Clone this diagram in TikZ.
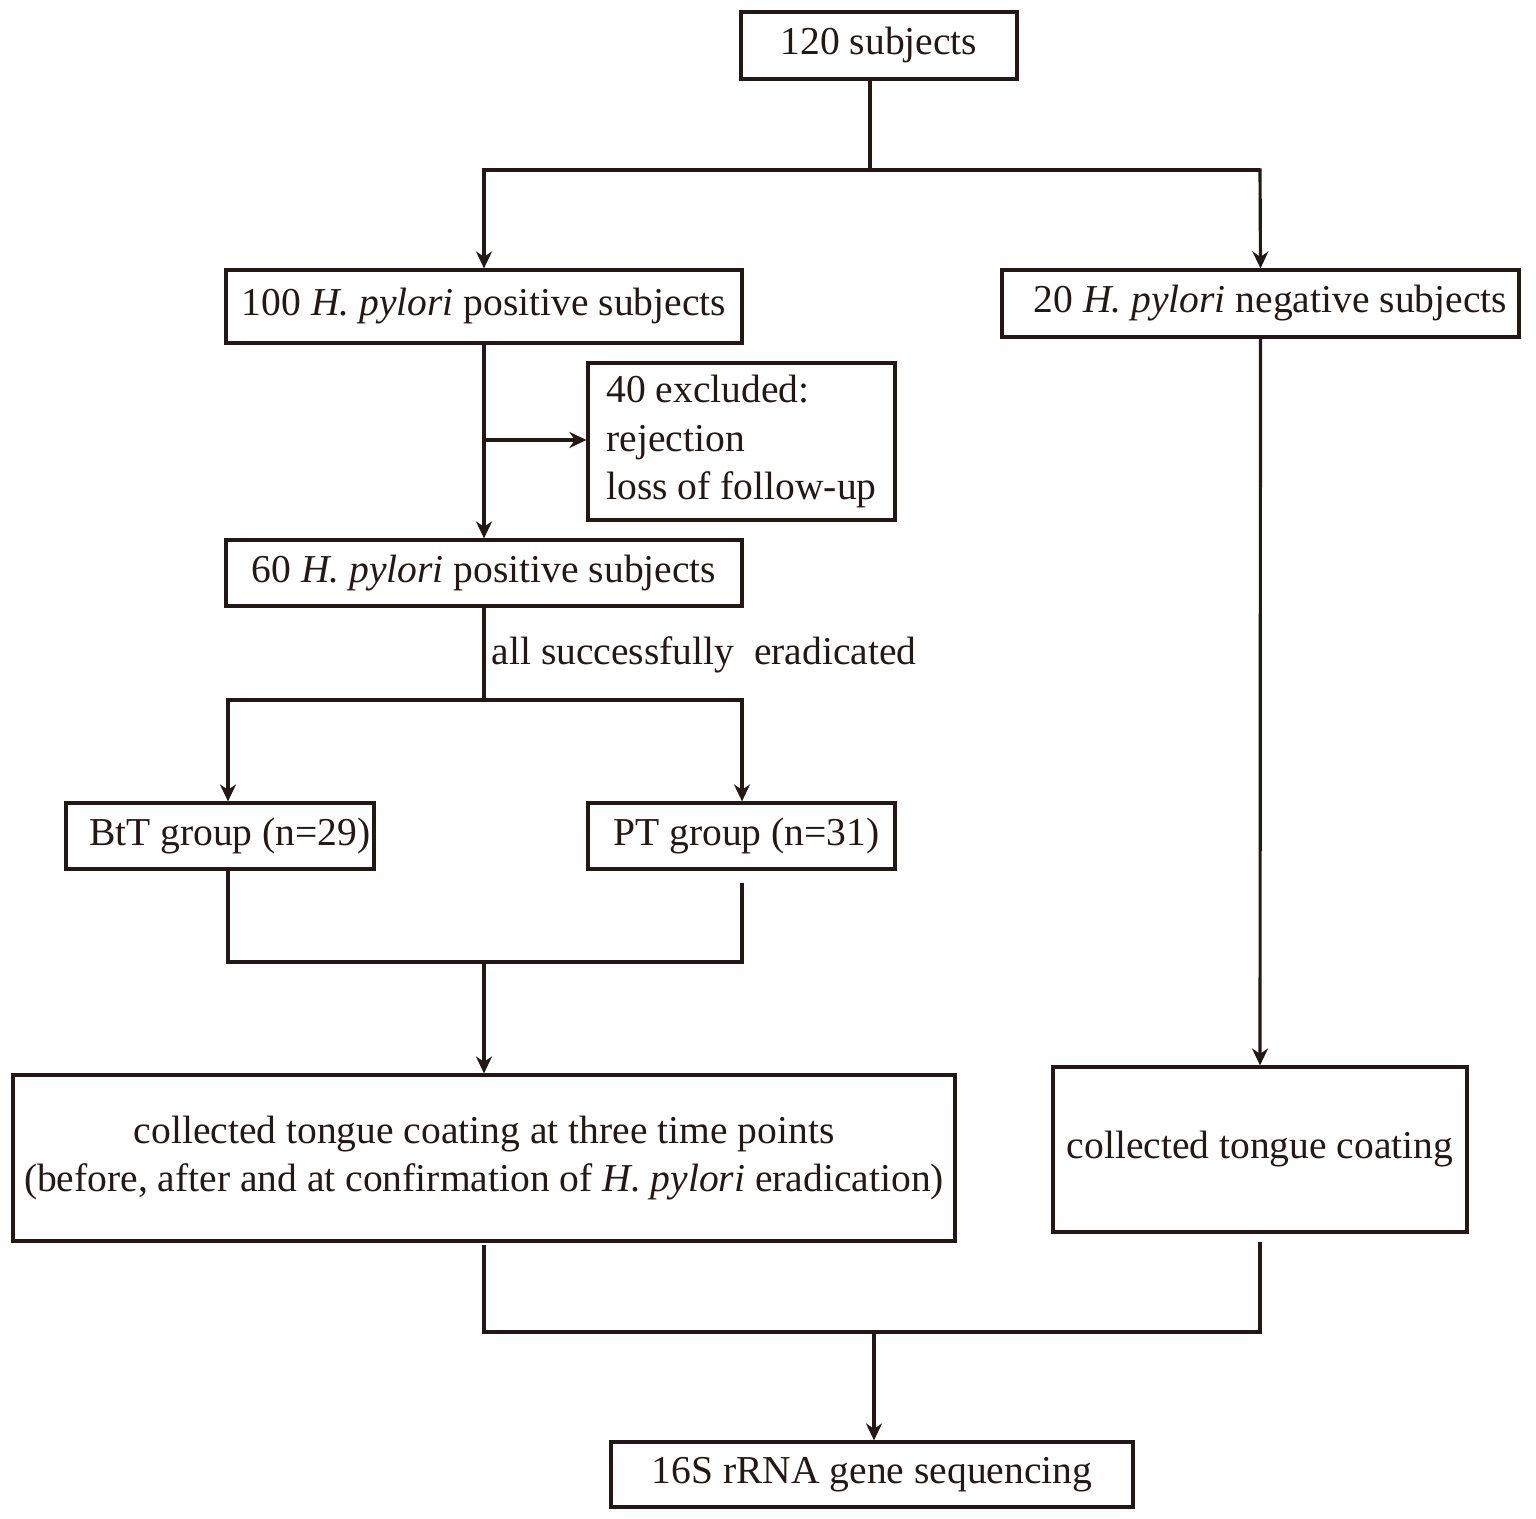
\documentclass[tikz,border=0pt]{standalone}
\usepackage{fontspec}
\setmainfont{Liberation Serif}
\usetikzlibrary{arrows.meta}
\definecolor{flow}{HTML}{231815}

\begin{document}
\begin{tikzpicture}[>={Stealth[length=1.7mm,width=1.6mm]},line width=0.9pt,color=flow,
    box/.style={draw,rectangle,inner sep=0pt,font=\fontsize{11.25}{13.7}\selectfont},
    label/.style={inner sep=0pt,font=\fontsize{11.25}{13.7}\selectfont}]
    \useasboundingbox (0cm,0cm) rectangle (15.36cm,-15.19cm);

    % the boxes
    \node[box,minimum width=2.76cm,minimum height=0.67cm] (top) at (8.79cm,-0.455cm) {120 subjects};
    \node[box,minimum width=5.16cm,minimum height=0.73cm] (pos100) at (4.84cm,-3.065cm) {100 \textit{H. pylori} positive subjects};
    \node[box,minimum width=5.17cm,minimum height=0.67cm] (neg20) at (12.605cm,-3.035cm) {\ \ 20 \textit{H. pylori} negative subjects};
    \node[box,minimum width=3.07cm,minimum height=1.57cm,align=left] (excl) at (7.415cm,-4.415cm) {40 excluded:\\rejection\\loss of follow-up};
    \node[box,minimum width=5.16cm,minimum height=0.66cm] (pos60) at (4.84cm,-5.73cm) {60 \textit{H. pylori} positive subjects};
    \node[box,minimum width=3.08cm,minimum height=0.66cm] (btt) at (2.20cm,-8.36cm) {\ \ BtT group (n=29)};
    \node[box,minimum width=3.07cm,minimum height=0.66cm] (pt) at (7.415cm,-8.36cm) {\ PT group (n=31)};
    \node[box,minimum width=9.42cm,minimum height=1.66cm,align=center] (coll) at (4.84cm,-11.58cm)
        {collected tongue coating at three time points\\(before, after and at confirmation of \textit{H. pylori} eradication)};
    \node[box,minimum width=4.14cm,minimum height=1.65cm] (collneg) at (12.60cm,-11.495cm) {collected tongue coating};
    \node[box,minimum width=5.22cm,minimum height=0.65cm] (seq) at (8.72cm,-14.745cm) {16S rRNA gene sequencing};

    % the split points
    \coordinate (s1) at (8.70cm,-1.70cm);
    \coordinate (s1l) at (4.84cm,-1.70cm);
    \coordinate (s1r) at (12.60cm,-1.70cm);
    \coordinate (ex) at (4.84cm,-4.40cm);
    \coordinate (s2) at (4.84cm,-7.00cm);
    \coordinate (s2l) at (2.28cm,-7.00cm);
    \coordinate (s2r) at (7.42cm,-7.00cm);
    \coordinate (ptend) at (7.42cm,-8.83cm);
    \coordinate (j1l) at (2.28cm,-9.62cm);
    \coordinate (j1r) at (7.42cm,-9.62cm);
    \coordinate (j1) at (4.84cm,-9.62cm);
    \coordinate (collend) at (4.84cm,-12.45cm);
    \coordinate (negend) at (12.60cm,-12.42cm);
    \coordinate (j2l) at (4.84cm,-13.32cm);
    \coordinate (j2r) at (12.60cm,-13.32cm);
    \coordinate (j2) at (8.74cm,-13.32cm);

    % first split
    \draw (top.south -| s1) -- (s1);
    \draw[->] (s1l) -- (s1r |- s1) -- (s1r) -- (neg20.north);
    \draw[->] (s1r) -- (s1l) -- (pos100.north);

    % exclusion
    \draw[->] (pos100.south) -- (pos60.north);
    \draw[->] (ex) -- (excl.west |- ex);

    % second split
    \draw (pos60.south) -- (s2) node[label,anchor=west] at (4.90cm,-6.55cm) {all successfully\ \ eradicated};
    \draw[->] (s2r) -- (s2l) -- (s2l |- btt.north);
    \draw[->] (s2l) -- (s2r) -- (s2r |- pt.north);

    % join of the groups
    \draw (j1l |- btt.south) -- (j1l) -- (j1r) -- (ptend);
    \draw[->] (j1) -- (coll.north);
    \draw[->] (neg20.south) -- (collneg.north);

    % final join
    \draw (collend) -- (j2l) -- (j2r) -- (negend);
    \draw[->] (j2) -- (seq.north -| j2);
\end{tikzpicture}
\end{document}
